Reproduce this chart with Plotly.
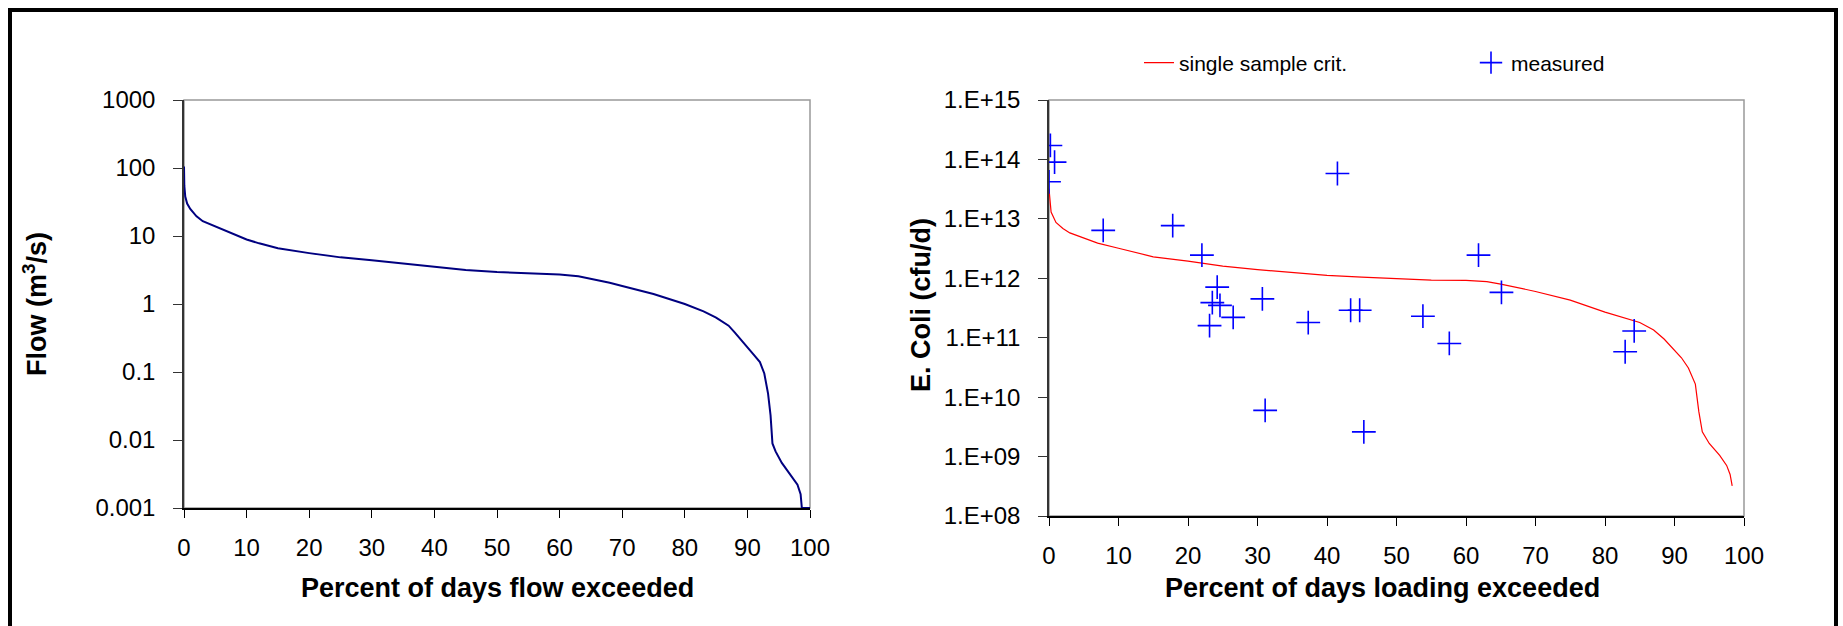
import plotly.graph_objects as go

W, H = 1843, 626

# flow duration curve (left)
flow_pct = [0, 0.05, 0.2, 0.5, 1, 2, 3, 5, 7, 10, 12, 15, 20, 25, 30, 35, 40, 45, 50, 55, 60,
            63, 65, 68, 70, 75, 80, 83, 85, 87, 88, 89, 90, 91, 92, 92.7, 93.3, 93.7, 94,
            94.5, 95.5, 97, 98, 98.5, 98.7, 100]
flow_cms = [105, 55, 38, 30, 25, 19.5, 16.5, 13.9, 11.5, 8.9, 7.8, 6.6, 5.6, 4.85, 4.4, 3.96, 3.5,
            3.16, 2.95, 2.8, 2.72, 2.55, 2.34, 2.05, 1.84, 1.4, 1.0, 0.78, 0.63, 0.48, 0.38, 0.30,
            0.23, 0.18, 0.14, 0.095, 0.048, 0.023, 0.0089, 0.0068, 0.0046, 0.0030, 0.0022,
            0.0016, 0.001, 0.001]

# load duration curve, single sample criterion (right)
crit_pct = [0, 0.1, 0.3, 1, 2, 3, 5, 7, 10, 15, 20, 25, 30, 35, 40, 45, 50, 55, 60, 63, 65, 68,
            70, 75, 80, 85, 87, 88.5, 90, 91, 92, 93, 93.5, 94, 95, 96.5, 97.5, 98, 98.3]
crit_load = [3.2e13, 2.0e13, 1.3e13, 8.7e12, 6.9e12, 5.8e12, 4.7e12, 3.9e12, 3.2e12, 2.3e12,
             1.95e12, 1.6e12, 1.4e12, 1.26e12, 1.12e12, 1.05e12, 1.0e12, 0.93e12, 0.92e12,
             0.88e12, 0.8e12, 0.68e12, 6.0e11, 4.3e11, 2.7e11, 1.8e11, 1.35e11, 9.5e10, 6.2e10,
             4.6e10, 3.1e10, 1.66e10, 5.7e9, 2.6e9, 1.66e9, 1.05e9, 7.1e8, 5.0e8, 3.2e8]

# measured loads
meas_pct = [0.2, 0.8, 0.0, 7.8, 17.8, 22.0, 24.2, 23.5, 24.6, 23.1, 26.5, 30.7, 31.1, 37.3,
            41.5, 43.4, 44.7, 45.3, 53.8, 57.6, 61.8, 65.1, 82.9, 84.2]
meas_load = [1.72e14, 9.0e13, 4.2e13, 6.4e12, 7.7e12, 2.45e12, 7.1e11, 3.9e11, 3.5e11,
             1.6e11, 2.2e11, 4.5e11, 6.0e9, 1.8e11, 5.8e13, 2.9e11, 2.9e11, 2.6e9, 2.3e11,
             8.0e10, 2.45e12, 5.8e11, 5.8e10, 1.3e11]

flow_ticks = [0.001, 0.01, 0.1, 1, 10, 100, 1000]
flow_ticktext = ["0.001", "0.01", "0.1", "1", "10", "100", "1000"]
load_ticks = [1e8, 1e9, 1e10, 1e11, 1e12, 1e13, 1e14, 1e15]
load_ticktext = ["1.E+08", "1.E+09", "1.E+10", "1.E+11", "1.E+12", "1.E+13", "1.E+14", "1.E+15"]
pct_ticks = list(range(0, 101, 10))

FONT = "Liberation Sans, Arial, sans-serif"

fig = go.Figure()
fig.add_trace(go.Scatter(x=flow_pct, y=flow_cms, mode="lines", showlegend=False,
                         line=dict(color="#000080", width=2), xaxis="x", yaxis="y"))
fig.add_trace(go.Scatter(x=crit_pct, y=crit_load, mode="lines", name="single sample crit.",
                         line=dict(color="#FF0000", width=1.2), xaxis="x2", yaxis="y2"))
fig.add_trace(go.Scatter(x=meas_pct, y=meas_load, mode="markers", name="measured",
                         marker=dict(symbol="cross-thin", size=17, color="#0000FF",
                                     line=dict(color="#0000FF", width=1.6)),
                         xaxis="x2", yaxis="y2"))

xcommon = dict(range=[0, 100], tickvals=pct_ticks, ticks="outside", ticklen=8, tickwidth=1.2,
               tickcolor="black", showline=True, linecolor="black", linewidth=1.5,
               showgrid=False, zeroline=False, ticklabelstandoff=9, automargin=False,
               tickfont=dict(size=24, color="black"))
ycommon = dict(type="log", ticks="outside", ticklen=9, tickwidth=1.2, tickcolor="#333",
               showline=True, linecolor="#333", linewidth=1.5, showgrid=False,
               zeroline=False, ticklabelstandoff=13, automargin=False,
               tickfont=dict(size=24, color="black"))

fig.update_layout(
    width=W, height=H,
    margin=dict(l=0, r=0, t=0, b=0, autoexpand=False),
    paper_bgcolor="white", plot_bgcolor="white",
    font=dict(family=FONT, color="black"),
    xaxis=dict(domain=[184 / W, 810 / W], anchor="y", **xcommon),
    yaxis=dict(domain=[1 - 508 / H, 1 - 100 / H], anchor="x", range=[-3, 3],
               tickvals=flow_ticks, ticktext=flow_ticktext, **ycommon),
    xaxis2=dict(domain=[1049 / W, 1744 / W], anchor="y2", **xcommon),
    yaxis2=dict(domain=[1 - 516 / H, 1 - 100 / H], anchor="x2", range=[8, 15],
                tickvals=load_ticks, ticktext=load_ticktext, **ycommon),
    legend=dict(orientation="h", x=1139 / W, y=1 - 63 / H, xanchor="left", yanchor="middle",
                font=dict(size=21, color="black"), entrywidth=287, bgcolor="rgba(0,0,0,0)"),
    showlegend=True,
)

# plot area borders (grey) and outer frame
for xr, yr in [("x domain", "y domain"), ("x2 domain", "y2 domain")]:
    fig.add_shape(type="rect", xref=xr, yref=yr, x0=0, x1=1, y0=0, y1=1,
                  line=dict(color="#999999", width=1.5), layer="below")
fig.add_shape(type="rect", xref="paper", yref="paper", x0=10 / W, x1=1836 / W,
              y0=-0.05, y1=1 - 10 / H, line=dict(color="black", width=4))

title_font = dict(size=27, color="black", family=FONT)
titles = [
    ("<b>Flow (m<sup>3</sup>/s)</b>", 35, 304, -90),
    ("<b>E. Coli (cfu/d)</b>", 921, 305, -90),
    ("<b>Percent of days flow exceeded</b>", 497, 588, 0),
    ("<b>Percent of days loading exceeded</b>", 1382, 588, 0),
]
for txt, px, py, ang in titles:
    fig.add_annotation(text=txt, xref="paper", yref="paper", x=px / W, y=1 - py / H,
                       xanchor="center", yanchor="middle", textangle=ang,
                       showarrow=False, font=title_font)

# page without body margin so the figure fills the window exactly
fig.write_html("out.html", config={"displayModeBar": False},
               post_script="document.body.style.margin='0';")
